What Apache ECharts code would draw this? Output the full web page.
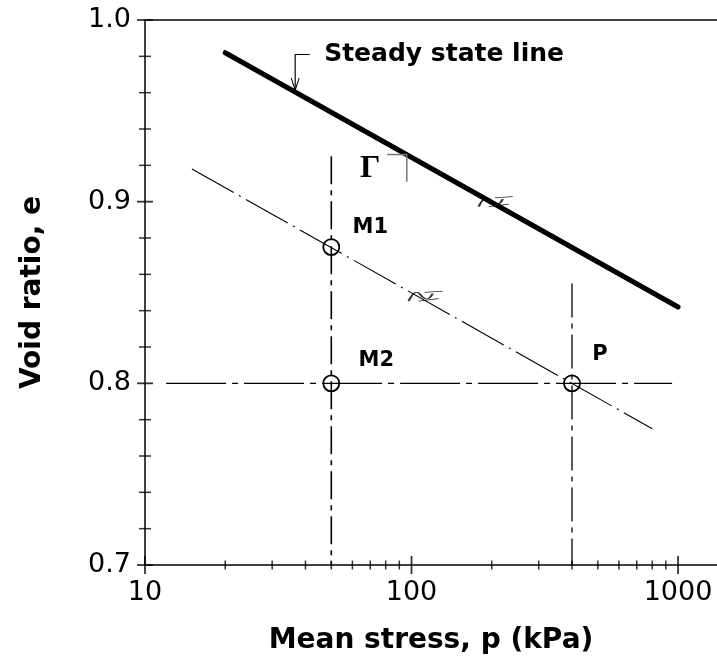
<!DOCTYPE html>
<html>
<head>
<meta charset="utf-8">
<script src="https://cdn.jsdelivr.net/npm/echarts@6/dist/echarts.min.js"></script>
<style>
  html, body { margin: 0; padding: 0; background: #fff; }
  #chart { width: 717px; height: 670px; }
</style>
</head>
<body>
<div id="chart"></div>
<script>
// Steady state line (thick) and the parallel line through M1 and P
const steadyLine = [[20, 0.982], [1000, 0.842]];
const stateLine = [[15, 0.918], [800, 0.775]];

// Construction lines
const verticalM = [[50, 0.925], [50, 0.7]];
const verticalP = [[400, 0.855], [400, 0.7]];
const horizontal08 = [[12, 0.8], [950, 0.8]];

// Marked states
const pointNames = ['M1', 'M2', 'P'];
const pointP = [50, 50, 400];
const pointE = [0.875, 0.8, 0.8];

// Γ bracket on the steady state line
const gammaBracket = [[81, 0.926], [96, 0.926], [96, 0.911]];
const gammaAnchor = [70, 0.918];

// Arrow from the label to the steady state line
const arrowPath = [[41.5, 0.981], [36.6, 0.981], [36.6, 0.962]];
const steadyLabelAnchor = [47, 0.981];

// Line break marks
const breakMarks = [[207, 0.9], [113, 0.848]];

// Axis ticks
const xMajorTicks = [10, 100, 1000];
const xMinorTicks = [20, 30, 40, 50, 60, 70, 80, 90, 200, 300, 400, 500, 600, 700, 800, 900];
const yMajorTicks = [0.7, 0.8, 0.9, 1.0];
const yMinorTicks = [0.72, 0.74, 0.76, 0.78, 0.82, 0.84, 0.86, 0.88, 0.92, 0.94, 0.96, 0.98];

const FONT = 'DejaVu Sans';
const X_MIN = 10, X_MAX = 1400;
const chart = echarts.init(document.getElementById('chart'));

const tickSeries = (data, size) => ({
  type: 'scatter', data: data, symbol: 'rect', symbolSize: size, clip: false,
  itemStyle: { color: '#000' }, silent: true, z: 5
});

const textSeries = (anchor, text, style) => ({
  type: 'scatter', silent: true, clip: false, symbolSize: 0,
  itemStyle: { color: '#000', opacity: 1 },
  data: [{ value: anchor }],
  label: Object.assign({ show: true, formatter: text, color: '#000', opacity: 1 }, style),
  z: 6
});

const option = {
  animation: false,
  grid: { left: 145, top: 20, right: 0, bottom: 105, outerBoundsMode: 'none', containLabel: false },
  xAxis: [{
    type: 'log', logBase: 10, min: X_MIN, max: X_MAX,
    axisLine: { show: true, lineStyle: { color: '#000', width: 1.5 } },
    axisTick: { show: false },
    splitLine: { show: false },
    axisLabel: {
      fontFamily: FONT, fontSize: 27, color: '#000', margin: 14,
      showMaxLabel: false, formatter: v => String(v)
    },
    name: 'Mean stress, p (kPa)', nameLocation: 'middle', nameGap: 62,
    nameTextStyle: { fontFamily: FONT, fontWeight: 'bold', fontSize: 28, color: '#000' }
  }, {
    // top frame line
    type: 'log', logBase: 10, min: X_MIN, max: X_MAX, position: 'top',
    axisLine: { show: true, lineStyle: { color: '#000', width: 1.5 } },
    axisTick: { show: false }, axisLabel: { show: false }, splitLine: { show: false }
  }],
  yAxis: {
    type: 'value', min: 0.7, max: 1.0, interval: 0.1,
    axisLine: { show: true, lineStyle: { color: '#000', width: 1.5 } },
    axisTick: { show: false },
    splitLine: { show: false },
    axisLabel: { fontFamily: FONT, fontSize: 27, color: '#000', margin: 14, formatter: v => v.toFixed(1) },
    name: 'Void ratio, e', nameLocation: 'middle', nameGap: 98,
    nameTextStyle: { fontFamily: FONT, fontWeight: 'bold', fontSize: 28, color: '#000' }
  },
  series: [
    tickSeries(xMajorTicks.map(v => [v, 0.7]), [1.8, 18]),
    tickSeries(xMinorTicks.map(v => [v, 0.7]), [1.5, 9]),
    tickSeries(yMajorTicks.map(v => [10, v]), [16, 1.8]),
    tickSeries(yMinorTicks.map(v => [10, v]), [12, 1.5]),
    {
      type: 'line', data: steadyLine, showSymbol: false, silent: true,
      lineStyle: { color: '#000', width: 5, cap: 'round' }, z: 3
    },
    {
      type: 'line', data: stateLine, showSymbol: false, silent: true,
      lineStyle: { color: '#000', width: 1.1, type: [48, 6, 2, 6] }, z: 3
    },
    {
      type: 'line', data: verticalM, showSymbol: false, silent: true,
      lineStyle: { color: '#000', width: 1.6, type: [28, 6, 5, 6] }, z: 3
    },
    {
      type: 'line', data: verticalP, showSymbol: false, silent: true,
      lineStyle: { color: '#000', width: 1.3, type: [34, 6, 5, 6] }, z: 3
    },
    {
      type: 'line', data: horizontal08, showSymbol: false, silent: true,
      lineStyle: { color: '#000', width: 1.3, type: [60, 6, 6, 6] }, z: 3
    },
    {
      type: 'line', data: gammaBracket, showSymbol: false, silent: true,
      lineStyle: { color: '#777', width: 1.5 }, z: 3
    },
    {
      type: 'line', silent: true, symbol: 'none',
      data: arrowPath.map((p, i) => i === arrowPath.length - 1
        ? { value: p, symbol: 'path://M0,0 L5,12 L10,0', symbolSize: [8, 12], symbolOffset: [0, -5] }
        : { value: p }),
      itemStyle: { color: 'none', borderColor: '#000', borderWidth: 1.2 },
      lineStyle: { color: '#000', width: 1.2 }, z: 4
    },
    {
      type: 'scatter', data: breakMarks, silent: true, clip: false,
      symbol: 'path://M0,9 C4,2 8,0 12,4 C16,8 20,9 24,3 M16,2 L34,1 M10,9 L30,7',
      symbolSize: [34, 10],
      itemStyle: { color: 'none', borderColor: '#000', borderWidth: 1.3 }, z: 6
    },
    {
      type: 'scatter', silent: true, clip: false,
      data: pointNames.map((n, i) => ({ name: n, value: [pointP[i], pointE[i]] })),
      symbol: 'circle', symbolSize: 16,
      itemStyle: { color: 'rgba(255,255,255,0)', borderColor: '#000', borderWidth: 1.8, opacity: 1 },
      label: {
        show: true, formatter: p => p.name, fontFamily: FONT, fontWeight: 'bold', fontSize: 21, color: '#000',
        position: 'inside'
      },
      labelLayout: p => {
        const off = { M1: [39, -20], M2: [45, -23], P: [28, -29] }[p.text] || [0, 0];
        return { dx: off[0], dy: off[1] };
      },
      z: 6
    },
    textSeries(gammaAnchor, 'Γ', { fontFamily: 'Liberation Serif', fontWeight: 'bold', fontSize: 32, position: 'inside' }),
    textSeries(steadyLabelAnchor, 'Steady state line', { fontFamily: FONT, fontWeight: 'bold', fontSize: 25, position: 'right', distance: 0 })
  ]
};
chart.setOption(option);
</script>
</body>
</html>
